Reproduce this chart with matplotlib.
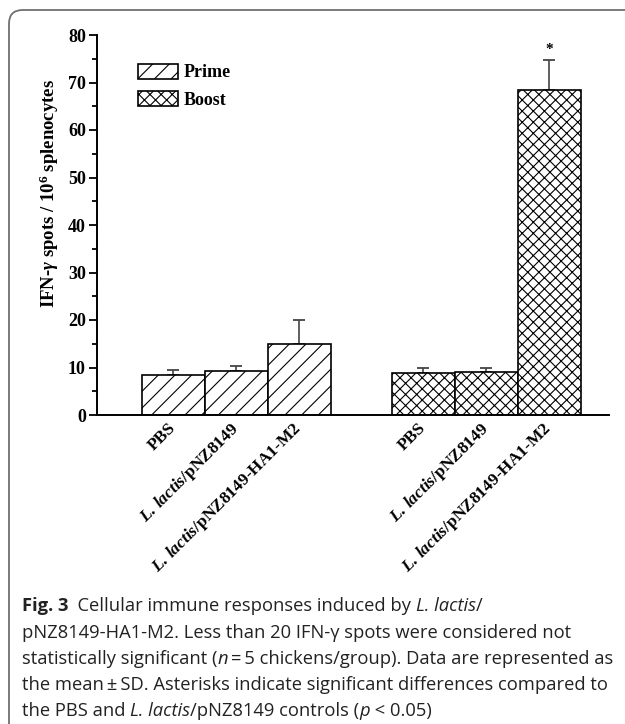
import matplotlib
matplotlib.use("Agg")
import matplotlib.pyplot as plt
from matplotlib.patches import FancyBboxPatch
import numpy as np

# ---- data ----
groups = ["Prime", "Boost"]
categories = ["PBS", r"$\mathit{L.\,lactis}$/pNZ8149", r"$\mathit{L.\,lactis}$/pNZ8149-HA1-M2"]
prime_means = [8.5, 9.2, 15.0]
prime_sd = [1.05, 1.1, 5.0]
boost_means = [8.8, 8.95, 68.4]
boost_sd = [1.1, 1.0, 6.3]
yticks = [0, 10, 20, 30, 40, 50, 60, 70, 80]

W, H = 625, 724
DPI = 100
plt.rcParams['mathtext.fontset'] = 'custom'
plt.rcParams['mathtext.rm'] = 'Liberation Serif:bold'
plt.rcParams['mathtext.it'] = 'Liberation Serif:italic:bold'
plt.rcParams['mathtext.bf'] = 'Liberation Serif:bold'
plt.rcParams['hatch.linewidth'] = 0.8

fig = plt.figure(figsize=(W / DPI, H / DPI), dpi=DPI)

# frame around figure (rounded, cut by the image edges)
frame = FancyBboxPatch((9 / W, -0.1), 1.2, (H - 10) / H + 0.1,
                       boxstyle="round,pad=0,rounding_size=0.022",
                       transform=fig.transFigure, fill=False,
                       edgecolor="#707070", linewidth=1.3, mutation_aspect=W / H)
fig.patches.append(frame)

ax_l, ax_r, ax_t, ax_b = 97, 609, 35, 415
ax = fig.add_axes([ax_l / W, 1 - ax_b / H, (ax_r - ax_l) / W, (ax_b - ax_t) / H])

bw = 1.0
prime_x = np.array([1.21, 2.21, 3.21])
boost_x = np.array([5.18, 6.18, 7.18])

ax.bar(prime_x, prime_means, width=bw, color="white", edgecolor="black",
       linewidth=1.2, hatch="//", label="Prime", zorder=2)
ax.bar(boost_x, boost_means, width=bw, color="white", edgecolor="black",
       linewidth=1.2, hatch="xxx", label="Boost", zorder=2)

for xs, m, s in [(prime_x, prime_means, prime_sd), (boost_x, boost_means, boost_sd)]:
    ax.errorbar(xs, m, yerr=[np.zeros(len(s)), s], fmt="none", ecolor="#444444",
                elinewidth=1.2, capsize=4, capthick=1.3, zorder=1)

ax.text(boost_x[2], boost_means[2] + boost_sd[2] + 0.8, "*", ha="center", va="bottom",
        fontsize=11, fontfamily="Liberation Serif", fontweight="bold")

ax.set_xlim(0, 8.13)
ax.set_ylim(0, 80)
ax.set_yticks(yticks)
ax.set_yticks(np.arange(5, 80, 10), minor=True)
ax.set_yticklabels([str(v) for v in yticks], fontfamily="Liberation Serif",
                   fontweight="bold", fontsize=13)
ax.tick_params(axis="y", which="major", direction="out", length=6, width=1.3, pad=2)
ax.tick_params(axis="y", which="minor", direction="out", length=3.5, width=1.3)
ax.set_xticks(list(prime_x) + list(boost_x))
ax.set_xticklabels(categories * 2, rotation=45, ha="right", va="center",
                   rotation_mode="anchor", fontfamily="Liberation Serif",
                   fontweight="bold", fontsize=12.5)
ax.tick_params(axis="x", length=0, pad=8)
for s in ["top", "right"]:
    ax.spines[s].set_visible(False)
for s in ["left", "bottom"]:
    ax.spines[s].set_linewidth(1.4)

leg = ax.legend(loc="upper left", bbox_to_anchor=(0.066, 0.944), frameon=False,
                prop={"family": "Liberation Serif", "weight": "bold", "size": 13},
                handlelength=2.2, handleheight=0.95, handletextpad=0.35, labelspacing=0.5,
                borderaxespad=0)

fig.text(49 / W, 1 - 193 / H, r"IFN-$\gamma$ spots / 10$^{\mathbf{6}}$ splenocytes",
         rotation=90, ha="center", va="center", fontfamily="Liberation Serif",
         fontweight="bold", fontsize=13.5)

# ---- caption ----
cap_lines = [
    [("Fig. 3", "bold", "normal"), ("  Cellular immune responses induced by ", "normal", "normal"),
     ("L. lactis", "normal", "italic"), ("/", "normal", "normal")],
    [("pNZ8149-HA1-M2. Less than 20 IFN-γ spots were considered not", "normal", "normal")],
    [("statistically significant (", "normal", "normal"), ("n", "normal", "italic"),
     ("\u2009=\u20095 chickens/group). Data are represented as", "normal", "normal")],
    [("the mean\u2009±\u2009SD. Asterisks indicate significant differences compared to", "normal", "normal")],
    [("the PBS and ", "normal", "normal"), ("L. lactis", "normal", "italic"),
     ("/pNZ8149 controls (", "normal", "normal"), ("p", "normal", "italic"),
     (" < 0.05)", "normal", "normal")],
]
baselines = [611, 637.5, 664, 690, 716]
fig.canvas.draw()
renderer = fig.canvas.get_renderer()
fam = ["Open Sans", "DejaVu Sans"]

def line_width(line, fs):
    tot = 0
    for txt, wt, st in line:
        t = fig.text(0, 0, txt, fontsize=fs, fontweight=wt, fontstyle=st, family=fam)
        tot += t.get_window_extent(renderer=renderer).width
        t.remove()
    return tot

fs0 = 10.0
fs = fs0 * 592 / line_width(cap_lines[2], fs0)
for line, yb in zip(cap_lines, baselines):
    x = 22
    for txt, wt, st in line:
        t = fig.text(x / W, 1 - yb / H, txt, fontsize=fs, fontweight=wt, fontstyle=st,
                     family=fam, va="baseline", ha="left", color="#222222")
        x += t.get_window_extent(renderer=renderer).width

fig.savefig("out.png", dpi=DPI)
